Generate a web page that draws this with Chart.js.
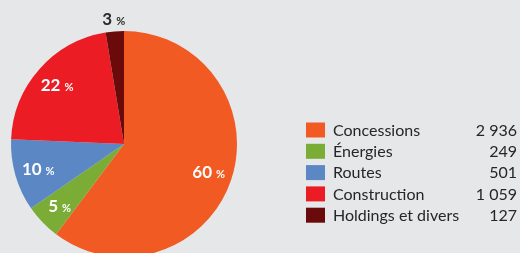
<!DOCTYPE html>
<html>
<head>
<meta charset="utf-8">
<script src="https://cdn.jsdelivr.net/npm/chart.js@4"></script>
<style>
  html, body { margin: 0; padding: 0; background: #e6e7e9; }
  .wrap { width: 520px; height: 253px; overflow: hidden; position: relative; }
</style>
</head>
<body>
<div class="wrap">
  <canvas id="pie" width="520" height="262"></canvas>
</div>
<script>
const categories = ["Concessions", "Énergies", "Routes", "Construction", "Holdings et divers"];
const values = [2936, 249, 501, 1059, 127];
const valueLabels = ["2 936", "249", "501", "1 059", "127"];
const percentLabels = [60, 5, 10, 22, 3];
const colors = ["#f15a22", "#7aac36", "#5b87c5", "#ec1c24", "#6a0a0b"];

const sliceLabels = {
  id: "sliceLabels",
  afterDatasetsDraw(chart) {
    const ctx = chart.ctx;
    const arcs = chart.getDatasetMeta(0).data;
    ctx.save();
    ctx.textBaseline = "alphabetic";
    arcs.forEach((arc, i) => {
      const mid = (arc.startAngle + arc.endAngle) / 2;
      const small = arc.endAngle - arc.startAngle < 0.25;
      const r = small ? arc.outerRadius + 12 : arc.outerRadius * 0.79;
      const x = arc.x + Math.cos(mid) * r;
      const y = arc.y + Math.sin(mid) * r;
      const num = String(percentLabels[i]);
      ctx.font = "bold 17px Lato";
      const w1 = ctx.measureText(num).width;
      ctx.font = "bold 11px Lato";
      const w2 = ctx.measureText("%").width;
      const gap = 4;
      const left = x - (w1 + gap + w2) / 2;
      ctx.fillStyle = small ? "#2b2b2b" : "#ffffff";
      ctx.font = "bold 17px Lato";
      ctx.fillText(num, left, y + 6);
      ctx.font = "bold 11px Lato";
      ctx.fillText("%", left + w1 + gap, y + 6);
    });
    ctx.restore();
  }
};

const sideLegend = {
  id: "sideLegend",
  afterDraw(chart) {
    const ctx = chart.ctx;
    ctx.save();
    ctx.font = "16px Lato";
    ctx.textBaseline = "middle";
    categories.forEach((name, i) => {
      const y = 129.5 + i * 21.3;
      ctx.fillStyle = colors[i];
      ctx.fillRect(306, y - 7, 19, 15);
      ctx.fillStyle = "#262626";
      ctx.textAlign = "left";
      ctx.fillText(name, 333, y + 1);
      ctx.textAlign = "right";
      ctx.fillText(valueLabels[i], 517, y + 1);
    });
    ctx.restore();
  }
};

new Chart(document.getElementById("pie"), {
  type: "pie",
  data: {
    labels: categories,
    datasets: [{
      data: values,
      backgroundColor: colors,
      borderWidth: 0
    }]
  },
  options: {
    responsive: false,
    animation: false,
    layout: { padding: { left: 11, top: 31, right: 283, bottom: 5 } },
    plugins: {
      legend: { display: false },
      tooltip: { enabled: false }
    }
  },
  plugins: [sliceLabels, sideLegend]
});
</script>
</body>
</html>
